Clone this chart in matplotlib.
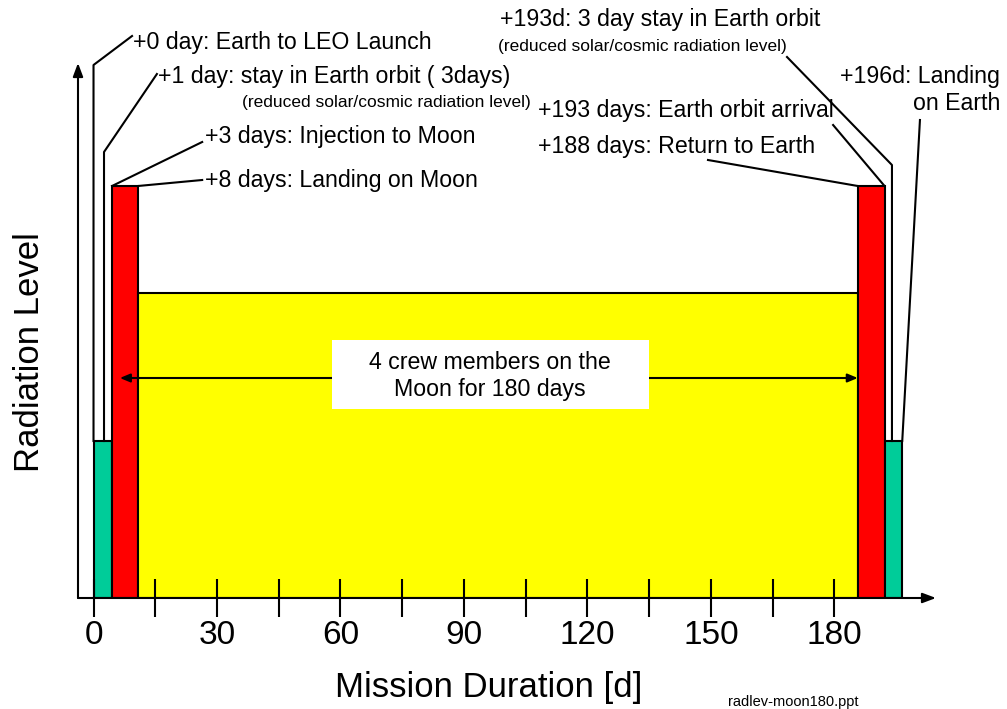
import matplotlib
matplotlib.use("Agg")
import matplotlib.pyplot as plt
from matplotlib.patches import Rectangle

plt.rcParams['font.family'] = ['Liberation Sans', 'DejaVu Sans']

# Mission phases (days on the drawn axis) and relative radiation level
phase_start = [0, 4.5, 10.8, 185.7, 192.2]
phase_end = [4.5, 10.8, 185.7, 192.2, 196.5]
phase_level = [1.57, 4.12, 3.05, 4.12, 1.57]
phase_color = ['#00CC99', '#FF0000', '#FFFF00', '#FF0000', '#00CC99']

major_ticks = [0, 30, 60, 90, 120, 150, 180]
minor_ticks = [15, 45, 75, 105, 135, 165]

crew_text = "4 crew members on the\nMoon for 180 days"
note_sub = "(reduced solar/cosmic radiation level)"

fig = plt.figure(figsize=[10.07, 7.09], dpi=100)
W, H = 1007, 709
ax = fig.add_axes([78 / W, (H - 598) / H, (936 - 78) / W, (598 - 63) / H])
ax.set_xlim(-3.77, 204.7)
ax.set_ylim(0, 5.35)
for s in ax.spines.values():
    s.set_visible(False)

# стрелки осей
arrow = dict(arrowstyle='-|>,head_length=0.8,head_width=0.3', lw=1.5, color='black',
             shrinkA=0, shrinkB=0)
ax.annotate('', xy=(1, 0), xytext=(0, 0), xycoords='axes fraction', arrowprops=arrow)
ax.annotate('', xy=(0, 1), xytext=(0, 0), xycoords='axes fraction', arrowprops=arrow)

# фазы миссии
widths = [e - s for s, e in zip(phase_start, phase_end)]
ax.bar(phase_start, phase_level, widths, align='edge', color=phase_color,
       edgecolor='black', linewidth=1.5, zorder=1)

ax.set_axisbelow(False)
ax.set_xticks(major_ticks)
ax.set_xticks(minor_ticks, minor=True)
ax.tick_params(axis='x', which='both', direction='inout', length=27, width=1.5,
               labelsize=24, pad=2)
ax.set_yticks([])

fig.text(30 / W, 1 - 352 / H, "Radiation Level", rotation=90, fontsize=25,
         ha='center', va='center')
fig.text(489 / W, 1 - 687 / H, "Mission Duration [d]", fontsize=25, ha='center', va='center')
fig.text(728 / W, 1 - 702 / H, "radlev-moon180.ppt", fontsize=10.5, ha='left', va='center')

line = dict(color='black', lw=1.5, clip_on=False, zorder=3)
fs = 16.7
sfs = 12.5

# левая сторона
x0, x1, x2 = phase_start[0], phase_end[0], phase_end[1]
ax.plot([x0, x0, 9.36], [phase_level[0], 5.33, 5.62], **line)
ax.text(9.5, 5.56, "+0 day: Earth to LEO Launch", fontsize=fs, va='center', clip_on=False)
ax.plot([2.55, 2.55, 15.4], [phase_level[0], 4.46, 5.24], **line)
ax.text(15.7, 5.21, "+1 day: stay in Earth orbit ( 3days)", fontsize=fs, va='center')
ax.text(36.1, 4.96, note_sub, fontsize=sfs, va='center')
ax.plot([x1, 26.4], [phase_level[1], 4.56], **line)
ax.text(27.1, 4.61, "+3 days: Injection to Moon", fontsize=fs, va='center')
ax.plot([x2, 26.4], [phase_level[1], 4.18], **line)
ax.text(27.1, 4.17, "+8 days: Landing on Moon", fontsize=fs, va='center')

# правая сторона
r0, r1, r2 = phase_start[3], phase_end[3], phase_end[4]
ax.plot([149.3, r0], [4.38, phase_level[3]], **line)
ax.text(108.0, 4.51, "+188 days: Return to Earth", fontsize=fs, va='center')
ax.plot([179.7, r1], [4.73, phase_level[3]], **line)
ax.text(108.0, 4.87, "+193 days: Earth orbit arrival", fontsize=fs, va='center')
ax.plot([168.5, 194.0, 194.0], [5.41, 4.33, phase_level[4]], **line)
ax.text(98.8, 5.78, "+193d: 3 day stay in Earth orbit", fontsize=fs, va='center')
ax.text(98.3, 5.51, note_sub, fontsize=sfs, va='center')
ax.plot([200.8, r2], [4.78, phase_level[4]], **line)
ax.text(220.3, 5.08, "+196d: Landing\non Earth", fontsize=fs, va='center', ha='right',
        multialignment='right', linespacing=1.2)

# стрелка пребывания на Луне
ax.annotate('', xy=(6.4, 2.2), xytext=(r0, 2.2),
            arrowprops=dict(arrowstyle='<|-|>,head_length=0.6,head_width=0.25',
                            lw=1.5, color='black', shrinkA=0, shrinkB=0), zorder=3)
ax.add_patch(Rectangle((57.96, 1.89), 135.0 - 57.96, 0.69, facecolor='white',
                       edgecolor='none', zorder=4))
ax.text(96.4, 2.22, crew_text, fontsize=fs, ha='center', va='center', linespacing=1.25,
        zorder=5)

fig.savefig("out.png", dpi=100)
